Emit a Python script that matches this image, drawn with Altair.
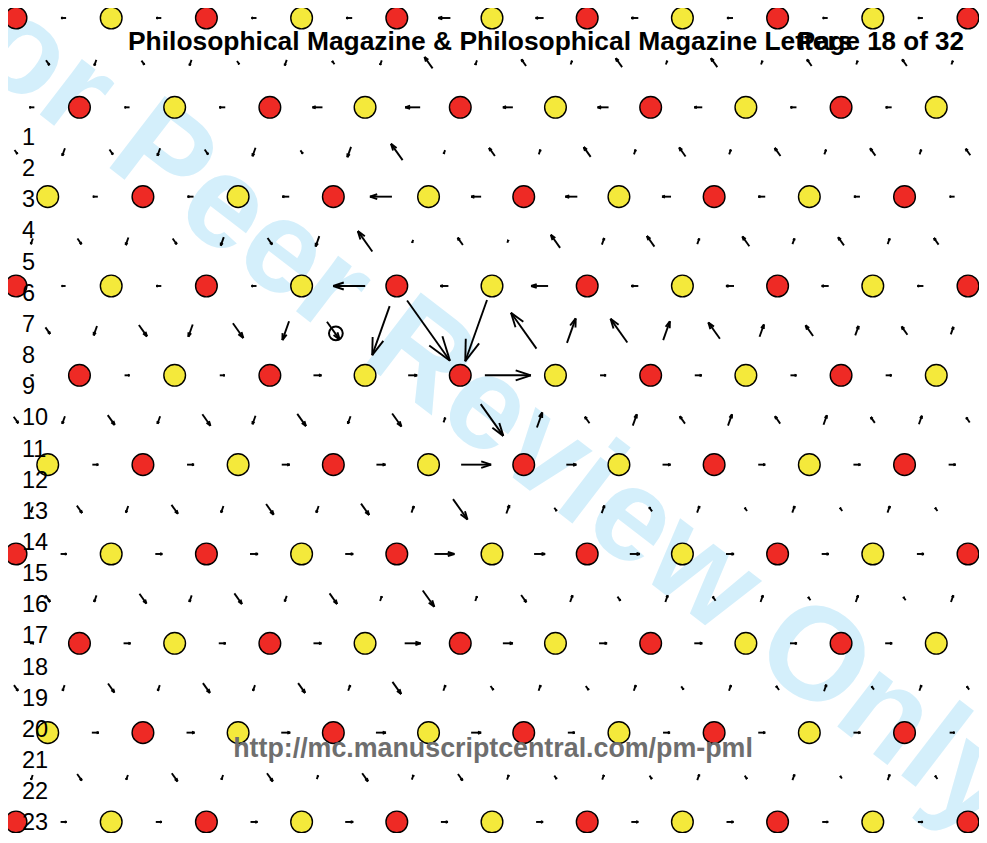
import altair as alt
import pandas as pd
import numpy as np

# ---------------- data ----------------
# fractional row offset of each lattice row (in column spacings)
ROW_OFFSET = [0, 2/3, 1/3, 0, 2/3, 1/3, 0, 2/3, 1/3, 0]
# atom species along each row (R = red, Y = yellow)
ATOM_ROWS = [
    "RYRYRYRYRYR",
    "RYRYRYRYRY",
    "YRYRYRYRYR",
    "RYRYRYRYRYR",
    "RYRYRYRYRY",
    "YRYRYRYRYR",
    "RYRYRYRYRYR",
    "RYRYRYRYRY",
    "YRYRYRYRYR",
    "RYRYRYRYRYR",
]
# horizontal-bond arrows per row, left to right (signed length, + = right)
H_ARROWS = [
    [-5, -5, -5, -6, -12, -8, -7, -6, -5, -5],
    [-5, -5, -6, -10, -15, -10, -11, -8, -6, -6, -5],
    [-5, -5, -6, -7, -22, -10, -12, -9, -7, -6, -5],
    [-4, -5, -5, -32, -8, -17, -7, -8, -7, -6],
    [3, 5, 5, 8, 9, 46, 6, 7, 6, 6, 5],
    [4, 6, 7, 8, 9, 30, 10, 8, 7, 7, 7],
    [6, 7, 8, 8, 20, 11, 10, 8, 7, 7],
    [4, 7, 7, 8, 16, 10, 8, 8, 7, 7, 5],
    [5, 7, 8, 9, 10, 10, 7, 7, 7, 7, 5],
    [6, 6, 7, 8, 7, 7, 7, 7, 6, 5],
]
# inter-row (diagonal) bond arrows per gap, left to right (signed length, + = downward)
D_ARROWS = [
    [5, 6, 6, 5, 6, 4, 6, -4, 5, -14, 5, -8, -4, -11, -4, -11, -4, -8, -4, -8, -4],
    [5, 8, 6, 8, 6, 9, 4, 11, -20, 4, -10, -5, -12, -5, -11, -5, -10, -5, -9, -5, -8],
    [6, 7, 8, 7, 9, 8, 11, -25, 3, -9, -3, -16, -7, -13, -6, -12, -6, -10, -6, -8, -6],
    [5, 8, 10, 14, 13, 18, 20, 22, 52, 74, 65, -44, -26, -29, -20, -20, -13, -13, -10, -10, -8],
    [8, 8, 12, 8, 14, 9, 15, 8, 16, -5, 39, -16, -8, -12, -9, -12, -9, -10, -7, -9, -6],
    [6, 9, 7, 11, 7, 13, 7, 14, -7, 25, -9, 4, -8, -5, -7, -4, -7, -4, -7, -4, -7],
    [4, 8, 7, 12, 7, 13, 6, 13, -5, 20, -5, 9, -7, 5, -7, -5, -7, -4, -7, -4, -7],
    [7, 6, 11, 6, 12, 6, 12, -6, 15, -6, 5, -6, 5, -6, 4, -6, -5, -7, -4, -6, -4],
    [5, 8, 5, 10, 5, 10, -4, 10, -5, 8, -5, 4, -5, 4, -6, 4, -6, -3, -6, -4, -6],
]
CORE = [(3.36, 3.53)]          # open-circle marker (lattice units)
LINE_NUMBERS = list(range(1, 25))
HEADER = "Philosophical Magazine & Philosophical Magazine Letters"
PAGE = "Page 18 of 32"
FOOTER = "http://mc.manuscriptcentral.com/pm-pml"
WATERMARK = "For Peer Review Only"

# ---------------- layout ----------------
W, H = 971, 825
PX_X, PX_Y = 95.2, 89.33
X0_PX, Y0_PX = 8, 10
XMIN, XMAX = -X0_PX / PX_X, (W - X0_PX) / PX_X
YMIN, YMAX = -Y0_PX / PX_Y, (H - Y0_PX) / PX_Y
ALPHA, BETA = 0.33, 0.33

atoms = []
for j, row in enumerate(ATOM_ROWS):
    for i, c in enumerate(row):
        atoms.append(dict(x=ROW_OFFSET[j] + i, y=j, c=c))
atoms = pd.DataFrame(atoms)

segs = []
def add_arrow(um, vm, bx, by, L):
    n = np.hypot(bx, by)
    ux, uy = bx / n * L, by / n * L
    tx, ty = -ux / 2, -uy / 2
    hx, hy = ux / 2, uy / 2
    p1 = (hx - ALPHA * (ux + BETA * uy), hy - ALPHA * (uy - BETA * ux))
    p2 = (hx - ALPHA * (ux - BETA * uy), hy - ALPHA * (uy + BETA * ux))
    for a in [(tx, ty), p1, p2]:
        segs.append(dict(x=um + a[0] / PX_X, y=vm + a[1] / PX_Y,
                         x2=um + hx / PX_X, y2=vm + hy / PX_Y))

for j, vals in enumerate(H_ARROWS):
    o = ROW_OFFSET[j]
    first = o - 0.5 if o - 0.5 >= -0.2 else o + 0.5
    for k, L in enumerate(vals):
        add_arrow(first + k, j, PX_X, 0, L)

for g, vals in enumerate(D_ARROWS):
    o = ROW_OFFSET[g]
    m = -1 if (o - 1/6 - 0.5) >= -0.2 else 0
    for L in vals:
        um = o - 1/6 + 0.5 * m
        if m % 2 == 0:   # "/" bond
            bx, by = -PX_X / 3, PX_Y
        else:            # "\" bond
            bx, by = 2 * PX_X / 3, PX_Y
        add_arrow(um, g + 0.5, bx, by, L)
        m += 1
segs = pd.DataFrame(segs)

xs = alt.Scale(domain=[XMIN, XMAX], nice=False, zero=False)
ys = alt.Scale(domain=[YMIN, YMAX], nice=False, zero=False, reverse=True)

font = "Liberation Sans"

watermark = alt.Chart(pd.DataFrame({"t": [WATERMARK]})).mark_text(
    font=font, fontWeight="bold", fontSize=132, angle=37.5, color="#d4effb",
    align="center", baseline="alphabetic"
).encode(text="t:N", x=alt.value(435), y=alt.value(416))

arrows = alt.Chart(segs).mark_rule(color="black", strokeWidth=1.9).encode(
    x=alt.X("x:Q", scale=xs, axis=None), y=alt.Y("y:Q", scale=ys, axis=None),
    x2="x2:Q", y2="y2:Q")

circles = alt.Chart(atoms).mark_circle(size=470, stroke="black", strokeWidth=1.4, opacity=1).encode(
    x=alt.X("x:Q", scale=xs, axis=None), y=alt.Y("y:Q", scale=ys, axis=None),
    color=alt.Color("c:N", scale=alt.Scale(domain=["R", "Y"], range=["#ee2a25", "#f4e93b"]), legend=None))

core = alt.Chart(pd.DataFrame(CORE, columns=["x", "y"])).mark_point(
    shape="circle", filled=False, stroke="black", strokeWidth=2, size=190, opacity=1).encode(
    x=alt.X("x:Q", scale=xs, axis=None), y=alt.Y("y:Q", scale=ys, axis=None))

header = alt.Chart(pd.DataFrame({"t": [HEADER]})).mark_text(
    font=font, fontWeight="bold", fontSize=26.4, color="black", align="left", baseline="alphabetic"
).encode(text="t:N", x=alt.value(120), y=alt.value(42))

page = alt.Chart(pd.DataFrame({"t": [PAGE]})).mark_text(
    font=font, fontWeight="bold", fontSize=26, color="black", align="right", baseline="alphabetic"
).encode(text="t:N", x=alt.value(956), y=alt.value(42))

footer = alt.Chart(pd.DataFrame({"t": [FOOTER]})).mark_text(
    font=font, fontWeight="bold", fontSize=26.8, color="#6e6e6e", align="center", baseline="alphabetic"
).encode(text="t:N", x=alt.value(485), y=alt.value(749))

ln = pd.DataFrame({"n": LINE_NUMBERS})
ln["py"] = 137 + 31.15 * (ln["n"] - 1)
ln["s"] = ln["n"].astype(str)
numbers = alt.Chart(ln).mark_text(
    font=font, fontSize=23.5, color="black", align="left", baseline="alphabetic"
).encode(text="s:N", x=alt.value(14), y=alt.Y("py:Q", scale=None, axis=None))

chart = alt.layer(watermark, arrows, circles, core, header, page, footer, numbers).resolve_scale(
    x="independent", y="independent"
).properties(
    width=W, height=H, padding=0, autosize=alt.AutoSizeParams(type="none")
).configure_view(stroke=None)

chart.save("out.html", embed_options={"renderer": "svg", "actions": False})
